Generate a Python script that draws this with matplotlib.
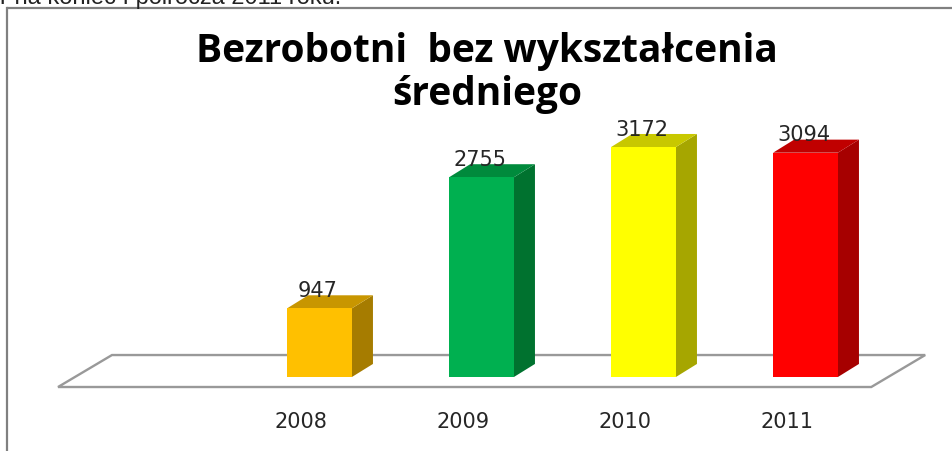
import numpy as np
import matplotlib
matplotlib.use("Agg")
import matplotlib.pyplot as plt
from matplotlib.patches import Polygon
from matplotlib.lines import Line2D

# data
years = ["2008", "2009", "2010", "2011"]
values = [947, 2755, 3172, 3094]
front_colors = ["#FFC000", "#00B050", "#FFFF00", "#FF0000"]
side_colors = ["#A67C00", "#00722F", "#A6A600", "#A60000"]
top_colors = ["#C89600", "#008A3C", "#C8C800", "#C00000"]
title = "Bezrobotni  bez wykształcenia\nśredniego"
clipped_note = "r na koniec I półrocza 2011 roku."

W, H = 953, 452
fig = plt.figure(figsize=(W / 100, H / 100), dpi=100)
ax = fig.add_axes([0, 0, 1, 1])
ax.axis("off")

# one empty category slot in front of 2008, like the original sheet
x = np.arange(1, len(years) + 1)
bar_w = 0.40
dx, dy = 0.13, 180          # bar depth
shift = 0.114               # bars sit a bit back on the floor
floor_front, floor_back = -138, 303
floor_dx = 0.333

ax.set_xlim(-157.5 / 162, (W - 157.5) / 162)
ax.set_ylim(-74 / 0.0725, 378 / 0.0725)

# floor
fl, fr = -0.5 - shift, 4.5 - shift
floor = Polygon([[fl, floor_front], [fr + 0.02, floor_front],
                 [fr + 0.02 + floor_dx, floor_back], [fl + floor_dx, floor_back]],
                closed=True, facecolor="white", edgecolor="#999999", lw=1.7, zorder=1)
ax.add_patch(floor)

# front faces
ax.bar(x, values, width=bar_w, color=front_colors, zorder=3)
for xi, v, sc, tc in zip(x, values, side_colors, top_colors):
    l, r = xi - bar_w / 2, xi + bar_w / 2
    side = Polygon([[r, 0], [r + dx, dy], [r + dx, v + dy], [r, v]],
                   closed=True, facecolor=sc, edgecolor="none", zorder=2)
    top = Polygon([[l, v], [r, v], [r + dx, v + dy], [l + dx, v + dy]],
                  closed=True, facecolor=tc, edgecolor="none", zorder=2)
    ax.add_patch(side)
    ax.add_patch(top)
    ax.annotate(str(v), (xi - 0.01, v), xytext=(0, 9), textcoords="offset points",
                ha="center", va="baseline", fontsize=15, color="#262626",
                family="DejaVu Sans", zorder=4)

for xi, yr in zip(x, years):
    ax.text(xi - shift, -607, yr, ha="center", va="center", fontsize=15,
            color="#262626", family="DejaVu Sans")

fig.text(487 / W, 1 - 73 / H, title, ha="center", va="center", fontsize=28,
         fontweight="bold", family="Open Sans", linespacing=1.12)

# line of the page above the chart, cut off by the screenshot
fig.text(0, 1 - 4 / H, clipped_note, ha="left", va="baseline", fontsize=17,
         family="Liberation Sans", color="#222222")

# chart border (top and left visible)
fig.add_artist(Line2D([8 / W, 1], [1 - 9 / H, 1 - 9 / H], color="#808080", lw=1.6))
fig.add_artist(Line2D([7 / W, 7 / W], [0, 1 - 9 / H], color="#808080", lw=1.6))

fig.savefig("out.png", dpi=100)
